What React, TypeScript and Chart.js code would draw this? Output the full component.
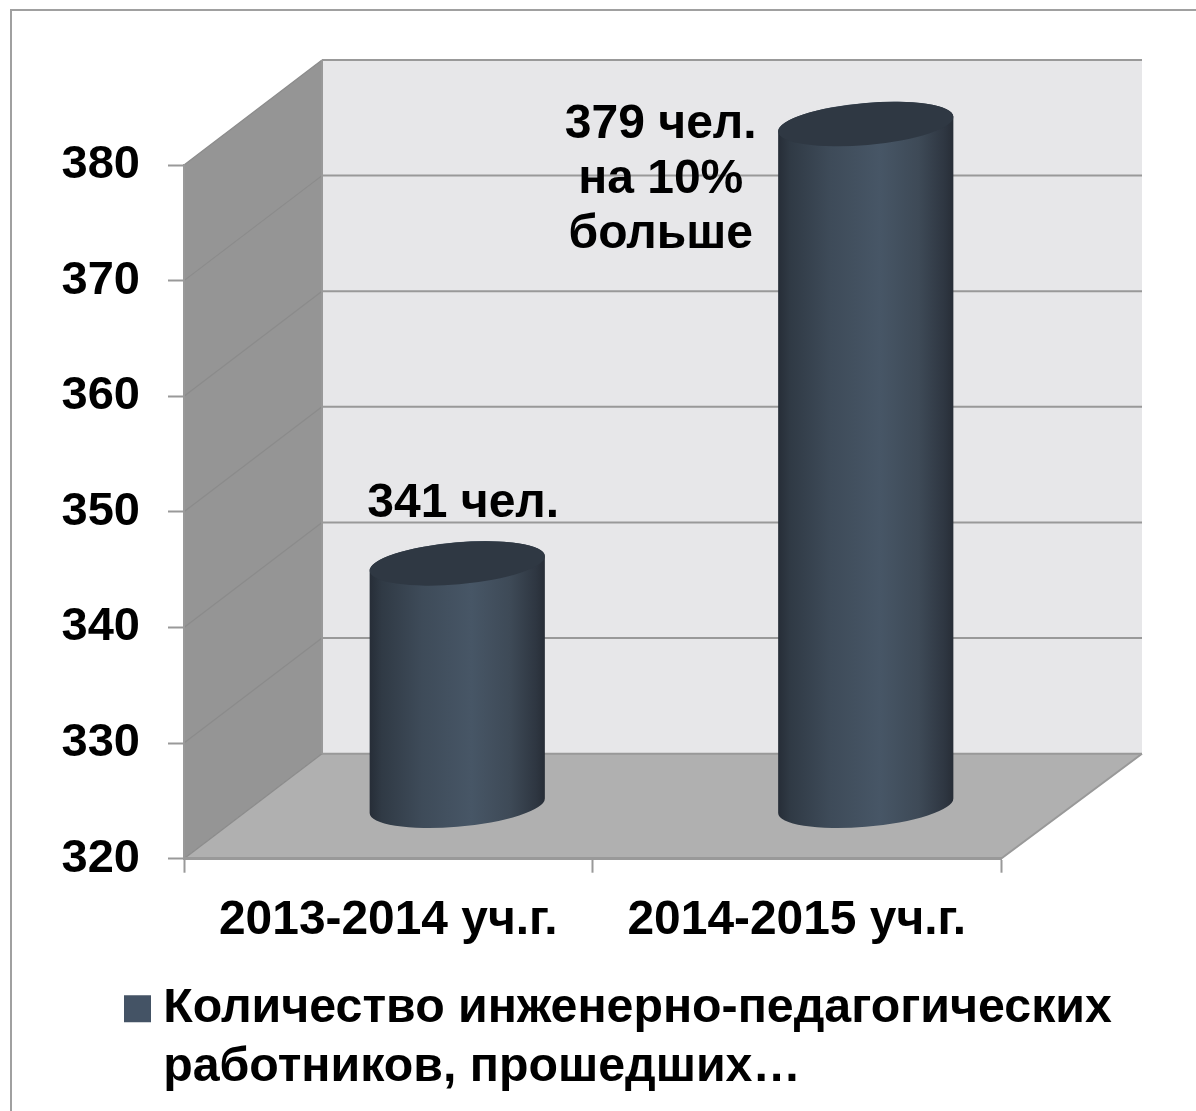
import React, { useEffect, useRef } from "react";
import { Chart, registerables } from "chart.js";

Chart.register(...registerables);

const categories = ["2013-2014 уч.г.", "2014-2015 уч.г."];
const values = [341, 379];
const seriesLines = ["Количество инженерно-педагогических", "работников, прошедших…"];
const valueLabels = [["341 чел."], ["379 чел.", "на 10%", "больше"]];
const labelDx = [75, -136];
const labelDy = [-112, -52];
const FONT = '"Liberation Sans", Arial, sans-serif';
const DX = 138;
const DY = 105;

function cylinder(ctx: CanvasRenderingContext2D, cx: number, top: number, base: number, width: number) {
  const a = width / 2 + 0.5;
  const b = 21;
  const th = (-5 * Math.PI) / 180;
  const t = Math.atan((b * Math.sin(-th)) / (a * Math.cos(th)));
  const g = ctx.createLinearGradient(cx - a, 0, cx + a, 0);
  g.addColorStop(0, "#262d37");
  g.addColorStop(0.07, "#303a45");
  g.addColorStop(0.3, "#3e4b59");
  g.addColorStop(0.58, "#475666");
  g.addColorStop(0.8, "#3e4a57");
  g.addColorStop(0.95, "#2e3641");
  g.addColorStop(1, "#272d36");
  ctx.beginPath();
  ctx.ellipse(cx, base, a, b, th, t, t + Math.PI, false);
  ctx.ellipse(cx, top, a, b, th, t + Math.PI, t, false);
  ctx.closePath();
  ctx.fillStyle = g;
  ctx.fill();
  ctx.beginPath();
  ctx.ellipse(cx, top, a, b, th, 0, Math.PI * 2);
  ctx.fillStyle = "#2f3843";
  ctx.fill();
}

const scene = {
  id: "scene",
  afterLayout(chart: any) {
    const lg = chart.legend;
    if (lg) {
      lg.left = 122;
      lg.bottom = chart.height;
      lg.height = lg.bottom - lg.top;
      lg.width = lg.right - lg.left;
    }
  },
  beforeDraw(chart: any) {
    const { ctx, chartArea: ca, scales } = chart;
    const y = scales.y;
    const { left, right, top, bottom } = ca;
    const backRight = right + DX + 3;
    ctx.save();
    ctx.fillStyle = "#ffffff";
    ctx.fillRect(0, 0, chart.width, chart.height);
    ctx.strokeStyle = "#a0a0a0";
    ctx.lineWidth = 2;
    ctx.beginPath();
    ctx.moveTo(11, chart.height);
    ctx.lineTo(11, 10);
    ctx.lineTo(chart.width, 10);
    ctx.stroke();

    ctx.fillStyle = "#e7e7e9";
    ctx.fillRect(left + DX, top - DY, backRight - left - DX, bottom - top);
    ctx.fillStyle = "#959595";
    ctx.beginPath();
    ctx.moveTo(left, top);
    ctx.lineTo(left + DX, top - DY);
    ctx.lineTo(left + DX, bottom - DY);
    ctx.lineTo(left, bottom);
    ctx.closePath();
    ctx.fill();
    ctx.fillStyle = "#b0b0b0";
    ctx.beginPath();
    ctx.moveTo(left, bottom);
    ctx.lineTo(left + DX, bottom - DY);
    ctx.lineTo(backRight, bottom - DY);
    ctx.lineTo(right, bottom);
    ctx.closePath();
    ctx.fill();

    ctx.strokeStyle = "#999999";
    ctx.lineWidth = 2;
    y.ticks.forEach((tk: any) => {
      const py = y.getPixelForValue(tk.value);
      ctx.beginPath();
      ctx.moveTo(left + DX, py - DY);
      ctx.lineTo(backRight, py - DY);
      ctx.stroke();
    });
    ctx.lineWidth = 1.2;
    ctx.strokeStyle = "#8b8b8b";
    y.ticks.forEach((tk: any) => {
      const py = y.getPixelForValue(tk.value);
      ctx.beginPath();
      ctx.moveTo(left, py);
      ctx.lineTo(left + DX, py - DY);
      ctx.stroke();
    });
    ctx.lineWidth = 2;
    ctx.strokeStyle = "#999999";
    ctx.beginPath();
    ctx.moveTo(left + DX, top - DY);
    ctx.lineTo(left + DX, bottom - DY);
    ctx.moveTo(right, bottom);
    ctx.lineTo(backRight, bottom - DY);
    ctx.stroke();
    ctx.restore();
  },
  afterDatasetsDraw(chart: any) {
    const { ctx } = chart;
    const meta = chart.getDatasetMeta(0);
    ctx.save();
    meta.data.forEach((bar: any, i: number) => {
      cylinder(ctx, bar.x + DX / 2, bar.y - DY / 2, bar.base - DY / 2, bar.width);
      ctx.fillStyle = "#000000";
      ctx.font = `bold 48px ${FONT}`;
      ctx.textAlign = "center";
      ctx.textBaseline = "middle";
      valueLabels[i].forEach((line, k) => {
        ctx.fillText(line, bar.x + labelDx[i], bar.y + labelDy[i] + k * 55);
      });
    });
    ctx.restore();
  },
};

export default function App() {
  const ref = useRef<HTMLCanvasElement>(null);
  useEffect(() => {
    const chart = new Chart(ref.current as HTMLCanvasElement, {
      type: "bar",
      data: {
        labels: categories,
        datasets: [
          {
            label: seriesLines.join(" "),
            data: values,
            base: 320,
            backgroundColor: "rgba(0,0,0,0)",
            borderWidth: 0,
            barPercentage: 0.428,
            categoryPercentage: 1,
          },
        ],
      },
      plugins: [scene],
      options: {
        responsive: false,
        animation: false,
        devicePixelRatio: 1,
        layout: { padding: { left: 55, right: 0, top: 165, bottom: 68 } },
        plugins: {
          tooltip: { enabled: false },
          title: { display: false },
          legend: {
            display: true,
            position: "bottom",
            align: "start",
            labels: {
              boxWidth: 3,
              boxHeight: 3,
              padding: 14,
              color: "#000000",
              font: { family: FONT, size: 48.3, weight: "bold", lineHeight: 59 / 48.3 },
              generateLabels: () => [
                {
                  text: seriesLines as any,
                  fillStyle: "#445365",
                  strokeStyle: "#445365",
                  lineWidth: 24,
                  datasetIndex: 0,
                },
              ],
            },
          },
        },
        scales: {
          x: {
            type: "category",
            afterFit(s: any) {
              s.height = 112;
            },
            grid: {
              display: true,
              drawOnChartArea: false,
              drawTicks: true,
              tickLength: 14,
              tickWidth: 2,
              tickColor: "#999999",
              offset: true,
            },
            border: { display: true, color: "#999999", width: 3 },
            ticks: {
              color: "#000000",
              padding: 19,
              maxRotation: 0,
              autoSkip: false,
              font: { family: FONT, size: 47.9, weight: "bold" },
            },
          },
          y: {
            type: "linear",
            position: "left",
            min: 320,
            max: 380,
            afterFit(s: any) {
              s.width = 129;
            },
            grid: {
              display: true,
              drawOnChartArea: false,
              drawTicks: true,
              tickLength: 16,
              tickWidth: 2,
              tickColor: "#999999",
            },
            border: { display: true, color: "#999999", width: 2 },
            ticks: {
              stepSize: 10,
              color: "#000000",
              padding: 28,
              font: { family: FONT, size: 47, weight: "bold" },
            },
          },
          spacer: {
            type: "linear",
            position: "right",
            display: true,
            afterFit(s: any) {
              s.width = 195;
            },
            grid: { display: false, drawTicks: false },
            border: { display: false },
            ticks: { display: false },
          },
        },
      } as any,
    });
    return () => chart.destroy();
  }, []);
  return (
    <div style={{ position: "absolute", left: 0, top: 0 }}>
      <canvas ref={ref} width={1196} height={1111} style={{ display: "block" }} />
    </div>
  );
}
